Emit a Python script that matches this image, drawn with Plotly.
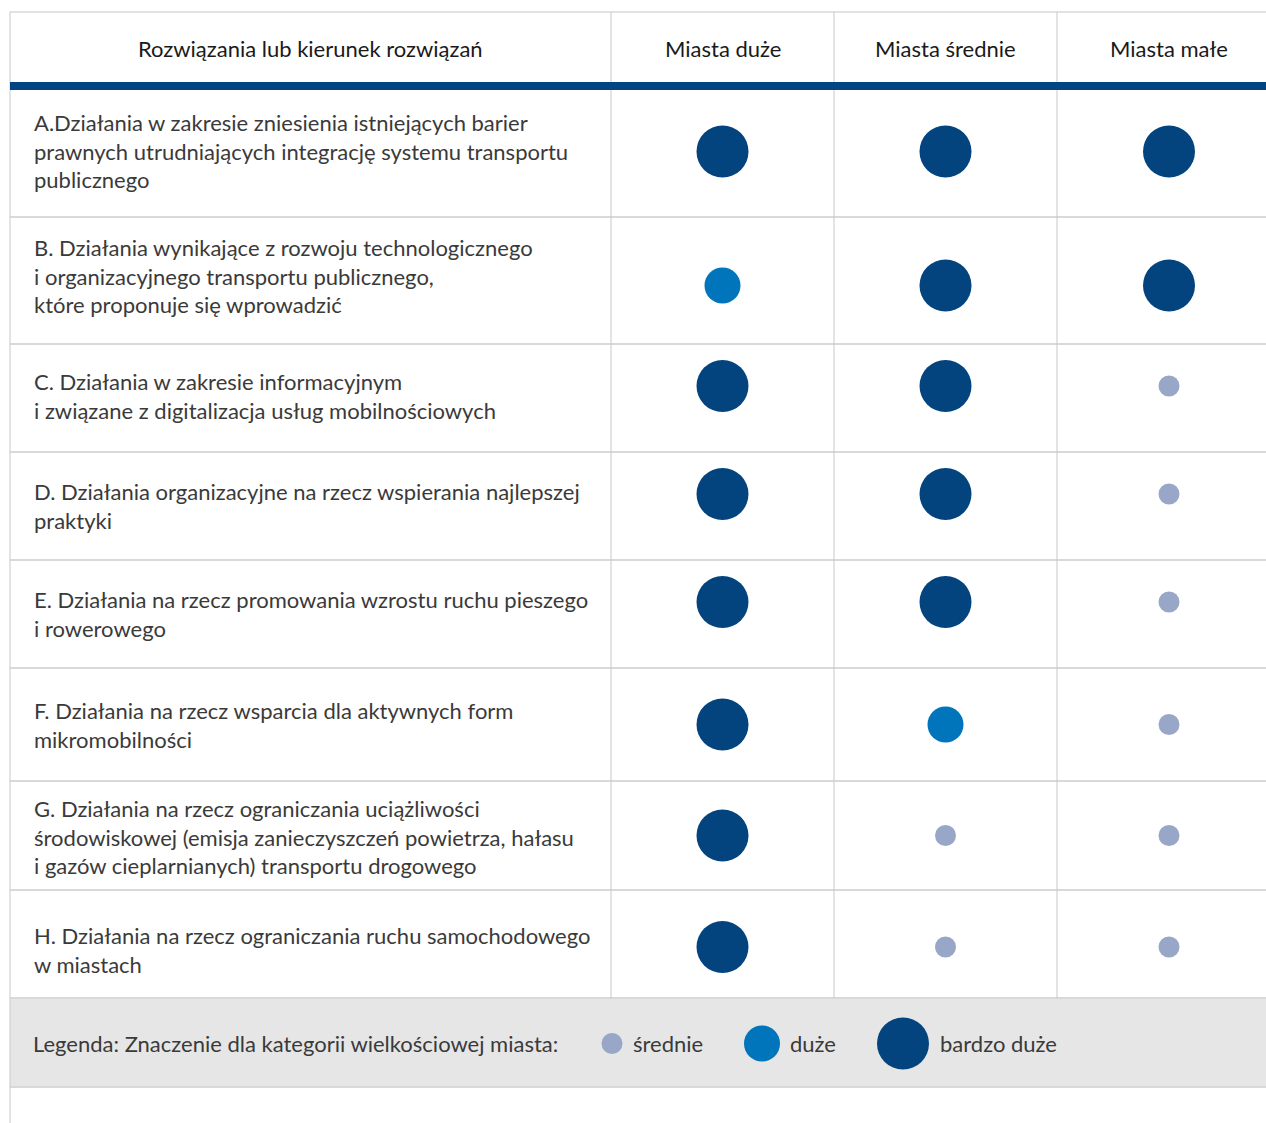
import plotly.graph_objects as go

# ---------------- data ----------------
header_first = "Rozwiązania lub kierunek rozwiązań"
columns = ["Miasta duże", "Miasta średnie", "Miasta małe"]
rows = [
    "A.Działania w zakresie zniesienia istniejących barier<br>prawnych utrudniających integrację systemu transportu<br>publicznego",
    "B. Działania wynikające z rozwoju technologicznego<br>i organizacyjnego transportu publicznego,<br>które proponuje się wprowadzić",
    "C. Działania w zakresie informacyjnym<br>i związane z digitalizacja usług mobilnościowych",
    "D. Działania organizacyjne na rzecz wspierania najlepszej<br>praktyki",
    "E. Działania na rzecz promowania wzrostu ruchu pieszego<br>i rowerowego",
    "F. Działania na rzecz wsparcia dla aktywnych form<br>mikromobilności",
    "G. Działania na rzecz ograniczania uciążliwości<br>środowiskowej (emisja zanieczyszczeń powietrza, hałasu<br>i gazów cieplarnianych) transportu drogowego",
    "H. Działania na rzecz ograniczania ruchu samochodowego<br>w miastach",
]
# significance level: 1 = średnie, 2 = duże, 3 = bardzo duże
duze    = [3, 2, 3, 3, 3, 3, 3, 3]
srednie = [3, 3, 3, 3, 3, 2, 1, 1]
male    = [3, 3, 1, 1, 1, 1, 1, 1]
values = [duze, srednie, male]
legend_title = "Legenda: Znaczenie dla kategorii wielkościowej miasta:"
legend_labels = ["średnie", "duże", "bardzo duże"]

# ---------------- styling / layout ----------------
W, H = 1266, 1123
level_color = {1: "#98A6C7", 2: "#0075BB", 3: "#03447F"}
level_size = {1: 21, 2: 36, 3: 52}
FONT = "Lato"
FS = 22
TXT = "#3a3a3a"
LINE_H = "#d9d9d9"
LINE_V = "#c8c8c8"

left = 10
col_edges = [611, 834, 1057, 1281]
top = 12
header_bottom = 82
band_bottom = 90
row_edges = [90, 217, 344, 452, 560, 668, 781, 890, 998]
legend_bottom = 1087
# fine vertical placement tweaks (pixels) per row
circle_dy = [-2, 5, -12, -12, -12, 0, 0, 3]
text_dy = [-3, -5, -2, 0, 0, 0, 1, 6]

fig = go.Figure()
shapes = []
annotations = []

# legend band
shapes.append(dict(type="rect", xref="x", yref="y", x0=left, x1=W, y0=row_edges[-1], y1=legend_bottom,
                   fillcolor="#e6e6e6", line=dict(width=0), layer="below"))
# horizontal lines
shapes.append(dict(type="line", x0=left, x1=W, y0=top, y1=top, line=dict(color=LINE_H, width=1.5)))
for yb in row_edges[1:]:
    shapes.append(dict(type="line", x0=left, x1=W, y0=yb, y1=yb, line=dict(color=LINE_H, width=2)))
shapes.append(dict(type="line", x0=left, x1=W, y0=legend_bottom, y1=legend_bottom, line=dict(color=LINE_H, width=2)))
# vertical lines
shapes.append(dict(type="line", x0=left, x1=left, y0=top, y1=H, line=dict(color=LINE_V, width=1)))
for xe in col_edges[:-1]:
    shapes.append(dict(type="line", x0=xe, x1=xe, y0=top, y1=row_edges[-1], line=dict(color=LINE_V, width=1)))
# header band
shapes.append(dict(type="rect", x0=left, x1=W, y0=header_bottom, y1=band_bottom,
                   fillcolor="#034582", line=dict(width=0)))

# header texts
hy = (top + header_bottom) / 2 + 1
annotations.append(dict(x=(left + col_edges[0]) / 2, y=hy, text=header_first, showarrow=False,
                        font=dict(family=FONT, size=FS, color="#1a1a1a"), xanchor="center", yanchor="middle"))
for i, c in enumerate(columns):
    annotations.append(dict(x=(col_edges[i] + col_edges[i + 1]) / 2, y=hy, text=c, showarrow=False,
                            font=dict(family=FONT, size=FS, color="#1a1a1a"), xanchor="center", yanchor="middle"))

# row texts
row_centers = [(row_edges[i] + row_edges[i + 1]) / 2 for i in range(len(rows))]
for i, r in enumerate(rows):
    annotations.append(dict(x=32, y=row_centers[i] + text_dy[i], text=r, showarrow=False, align="left",
                            font=dict(family=FONT, size=FS, color=TXT), xanchor="left", yanchor="middle"))

# circles
col_centers = [(col_edges[i] + col_edges[i + 1]) / 2 for i in range(len(columns))]
circle_y = [row_centers[i] + circle_dy[i] for i in range(len(rows))]
for ci, vals in enumerate(values):
    fig.add_trace(go.Scatter(
        x=[col_centers[ci]] * len(vals), y=circle_y,
        mode="markers", hoverinfo="skip", showlegend=False,
        marker=dict(size=[level_size[v] for v in vals], color=[level_color[v] for v in vals],
                    opacity=1, line=dict(width=0))))

# legend row
ly = (row_edges[-1] + legend_bottom) / 2 + 1
annotations.append(dict(x=31, y=ly, text=legend_title, showarrow=False, xanchor="left", yanchor="middle",
                        font=dict(family=FONT, size=FS, color=TXT)))
legend_x = [612, 762, 903]
legend_text_x = [631, 788, 938]
fig.add_trace(go.Scatter(x=legend_x, y=[ly] * 3, mode="markers", hoverinfo="skip", showlegend=False,
                         marker=dict(size=[level_size[l] for l in (1, 2, 3)],
                                     color=[level_color[l] for l in (1, 2, 3)],
                                     opacity=1, line=dict(width=0))))
for i, lab in enumerate(legend_labels):
    annotations.append(dict(x=legend_text_x[i], y=ly, text=lab, showarrow=False, xanchor="left", yanchor="middle",
                            font=dict(family=FONT, size=FS, color=TXT)))

fig.update_layout(
    width=W, height=H, margin=dict(l=0, r=0, t=0, b=0), autosize=False,
    paper_bgcolor="white", plot_bgcolor="white",
    xaxis=dict(range=[0, W], visible=False, fixedrange=True),
    yaxis=dict(range=[H, 0], visible=False, fixedrange=True),
    shapes=shapes, annotations=annotations,
)
fig.write_html("out.html", config={"displayModeBar": False, "responsive": False},
               post_script="document.body.style.margin='0';document.body.style.overflow='hidden';")
